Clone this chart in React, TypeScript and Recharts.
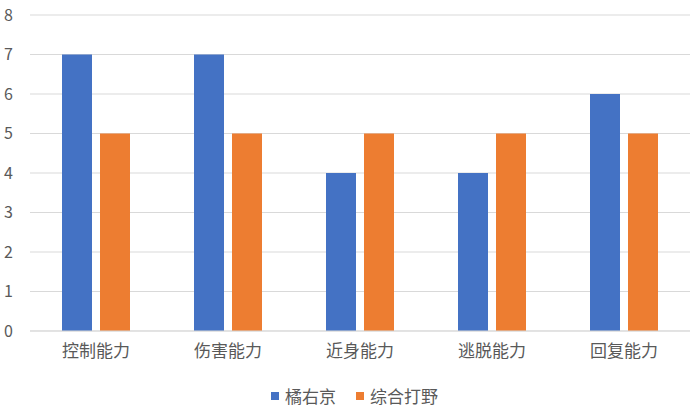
import { BarChart, Bar, XAxis, YAxis, CartesianGrid, Legend } from "recharts";

const categories = ["控制能力", "伤害能力", "近身能力", "逃脱能力", "回复能力"];
const juYoukyoValues = [7, 7, 4, 4, 6];
const jungleValues = [5, 5, 5, 5, 5];
const yTicks = [0, 1, 2, 3, 4, 5, 6, 7, 8];

const data = categories.map((name, i) => ({
  name,
  橘右京: juYoukyoValues[i],
  综合打野: jungleValues[i],
}));

const FONT = '"Noto Sans CJK SC", "Microsoft YaHei", sans-serif';
const TEXT = "#595959";

function LegendContent({ payload }: { payload?: any[] }) {
  return (
    <div
      style={{
        display: "flex",
        justifyContent: "center",
        alignItems: "center",
        paddingLeft: 10,
        fontFamily: FONT,
        fontSize: 17,
        color: TEXT,
        lineHeight: "20px",
      }}
    >
      {(payload ?? []).map((p, i) => (
        <div
          key={p.value}
          style={{ display: "flex", alignItems: "center", marginLeft: i ? 20 : 0 }}
        >
          <span style={{ width: 8, height: 8, background: p.color, marginRight: 6 }} />
          <span>{p.value}</span>
        </div>
      ))}
    </div>
  );
}

export default function App() {
  return (
    <div style={{ position: "absolute", left: 0, top: 0, background: "#fff" }}>
      <BarChart
        width={699}
        height={417}
        data={data}
        margin={{ top: 15, right: 9, left: 0, bottom: 56 }}
        barSize={30}
        barGap={8}
      >
        <CartesianGrid vertical={false} stroke="#D9D9D9" />
        <XAxis
          dataKey="name"
          axisLine={{ stroke: "#D9D9D9" }}
          tickLine={false}
          tickSize={0}
          tickMargin={14}
          tick={{ fontSize: 17, fill: TEXT, fontFamily: FONT }}
        />
        <YAxis
          width={30}
          domain={[0, 8]}
          ticks={yTicks}
          axisLine={false}
          tickLine={false}
          tickSize={0}
          tickMargin={17}
          tick={{ fontSize: 16, fill: TEXT, fontFamily: FONT }}
        />
        <Legend
          verticalAlign="middle"
          wrapperStyle={{ top: 386, left: 0, width: 699 }}
          content={<LegendContent />}
        />
        <Bar dataKey="橘右京" fill="#4472C4" isAnimationActive={false} />
        <Bar dataKey="综合打野" fill="#ED7D31" isAnimationActive={false} />
      </BarChart>
    </div>
  );
}
